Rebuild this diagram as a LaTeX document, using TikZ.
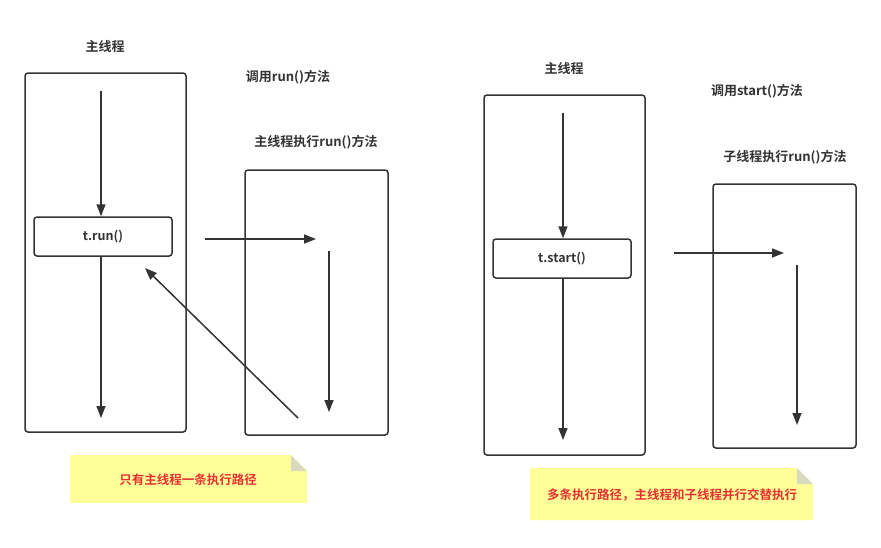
\documentclass[tikz,border=0pt]{standalone}
\usepackage{fontspec}
\newfontfamily\cjk{Noto Sans CJK SC}[BoldFont={* Bold}]
\usetikzlibrary{arrows.meta}
\definecolor{ln}{HTML}{333333}
\definecolor{notebg}{HTML}{FFFF99}
\definecolor{notefold}{HTML}{D9D9C0}
\definecolor{red1}{HTML}{E53333}
\tikzset{
 x=1pt,y=-1pt,
 lbl/.style={font=\cjk\bfseries\fontsize{13}{15}\selectfont,text=ln},
 frame/.style={draw=ln,line width=1.5pt,rounded corners=3pt},
 call/.style={draw=ln,line width=1.5pt,rounded corners=3pt,fill=white,font=\cjk\bfseries\fontsize{12.5}{14}\selectfont,text=ln},
 arr/.style={draw=ln,line width=1.5pt,-{Triangle[length=12pt,width=9pt]}},
 notetxt/.style={font=\cjk\bfseries\fontsize{12.5}{14}\selectfont,text=red1}
}
\begin{document}
\begin{tikzpicture}
\useasboundingbox[fill=white] (0,0) rectangle (881,547);
% left
\node[lbl] (lm) at (105,47) {主线程};
\draw[frame] (25,73) rectangle (186,432);
\node[call,minimum width=138pt,minimum height=39pt] (run) at (103,236.5) {t.run()};
\coordinate (a1) at (101,91);
\draw[arr] (a1) -- (run.north -| a1);
\coordinate (a2) at (101,418);
\draw[arr] (run.south -| a2) -- (a2);
\node[lbl] (l1) at (288,77) {调用run()方法};
\node[lbl] (l2) at (316,142) {主线程执行run()方法};
\draw[frame] (245,170) rectangle (388,435);
\coordinate (b1) at (205,239); \coordinate (b2) at (316,239);
\draw[arr] (b1) -- (b2);
\coordinate (b3) at (329,251); \coordinate (b4) at (329,412);
\draw[arr] (b3) -- (b4);
\coordinate (c1) at (298,418); \coordinate (c2) at (145,268);
\draw[arr] (c1) -- (c2);
\fill[notebg] (70,455) -- (291,455) -- (307,471) -- (307,503) -- (70,503) -- cycle;
\fill[notefold] (291,455) -- (307,471) -- (291,471) -- cycle;
\node[notetxt] (n1) at (188,480) {只有主线程一条执行路径};
% right
\node[lbl] (rm) at (564,69) {主线程};
\draw[frame] (484,95) rectangle (645,455);
\node[call,minimum width=138pt,minimum height=39pt] (start) at (562,258.5) {t.start()};
\coordinate (d1) at (563,113);
\draw[arr] (d1) -- (start.north -| d1);
\coordinate (d2) at (563,440);
\draw[arr] (start.south -| d2) -- (d2);
\node[lbl] (r1) at (757,91) {调用start()方法};
\node[lbl] (r2) at (785,157) {子线程执行run()方法};
\draw[frame] (713,184) rectangle (856,448);
\coordinate (e1) at (674,253); \coordinate (e2) at (784,253);
\draw[arr] (e1) -- (e2);
\coordinate (e3) at (797,265); \coordinate (e4) at (797,425);
\draw[arr] (e3) -- (e4);
\fill[notebg] (530,468) -- (797,468) -- (813,484) -- (813,520) -- (530,520) -- cycle;
\fill[notefold] (797,468) -- (813,484) -- (797,484) -- cycle;
\node[notetxt] (n2) at (672,495) {多条执行路径，主线程和子线程并行交替执行};
\end{tikzpicture}
\end{document}
